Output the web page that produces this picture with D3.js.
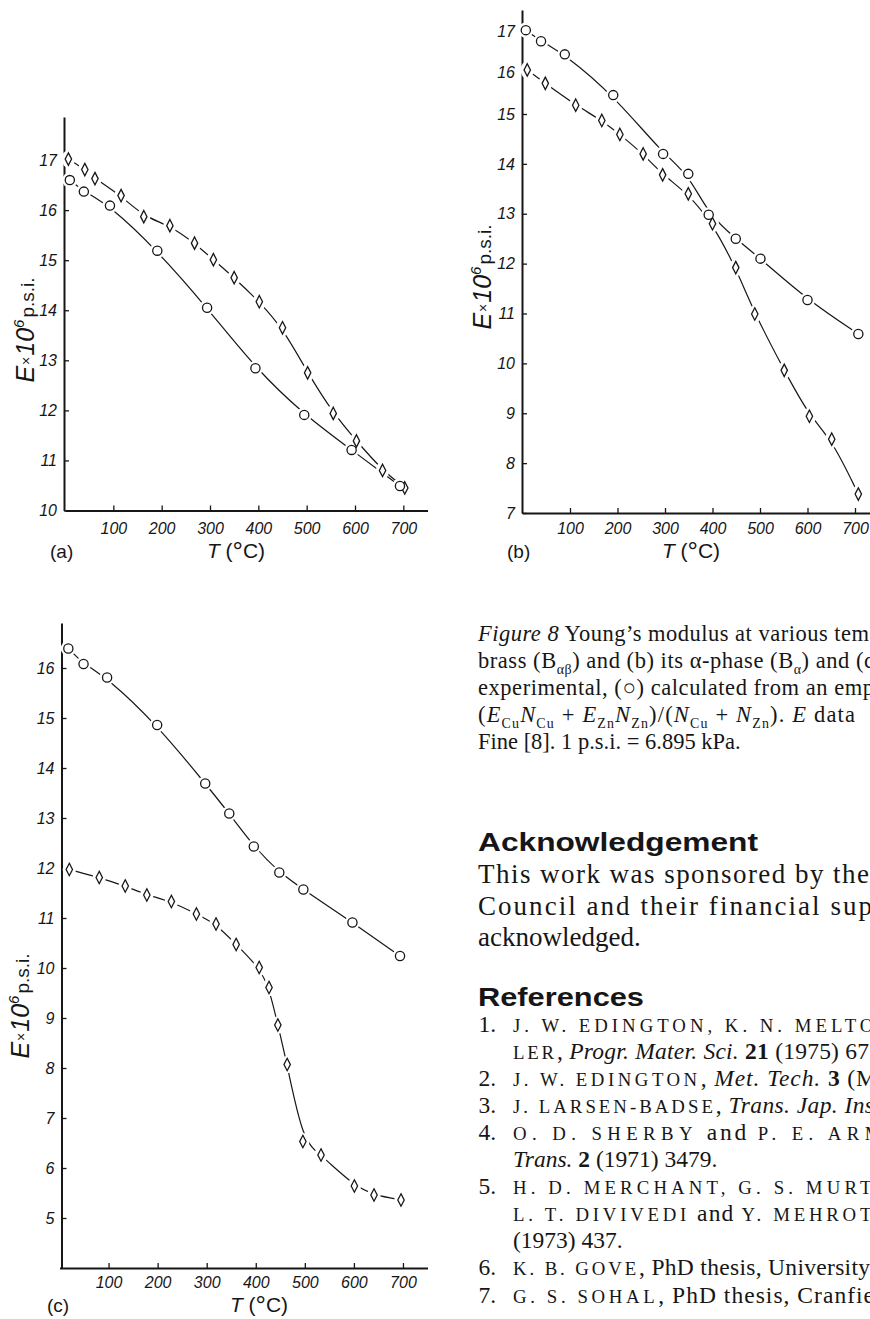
<!DOCTYPE html>
<html><head><meta charset="utf-8">
<script src="https://cdn.jsdelivr.net/npm/d3@7"></script>
<style>
html,body{margin:0;padding:0;background:#fff}
svg{display:block}
</style></head>
<body>
<svg id="fig" width="870" height="1319"></svg>
<script>
// ---------------- data ----------------
const xTickValues = [100, 200, 300, 400, 500, 600, 700];
const xTickLabels = ["100", "200", "300", "400", "500", "600", "700"];

// panel (a)  brass B_ab
const aYTicks = [10, 11, 12, 13, 14, 15, 16, 17];
const aExpT  = [7, 41, 62, 116, 163, 217, 268, 307, 350, 402, 450, 502, 555, 603, 657, 703];
const aExpE  = [17.02, 16.81, 16.63, 16.29, 15.87, 15.69, 15.34, 15.01, 14.65, 14.17, 13.65, 12.75, 11.94, 11.39, 10.80, 10.45];
const aCalcT = [10, 39, 93, 191, 294, 394, 495, 593, 693];
const aCalcE = [16.60, 16.37, 16.09, 15.19, 14.05, 12.84, 11.91, 11.21, 10.49];

// panel (b)  alpha phase B_a
const bYTicks = [7, 8, 9, 10, 11, 12, 13, 14, 15, 16, 17];
const bCalcT = [7, 39, 89, 191, 296, 349, 392, 449, 501, 600, 707];
const bCalcE = [17.02, 16.75, 16.43, 15.45, 14.20, 13.80, 12.98, 12.50, 12.10, 11.27, 10.59];
const bExpT  = [10, 48, 112, 167, 205, 254, 295, 349, 400, 449, 489, 551, 604, 651, 707];
const bExpE  = [16.05, 15.73, 15.21, 14.87, 14.59, 14.20, 13.78, 13.40, 12.80, 11.92, 10.99, 9.86, 8.94, 8.48, 7.38];

// panel (c)  beta phase
const cYTicks = [5, 6, 7, 8, 9, 10, 11, 12, 13, 14, 15, 16];
const cCalcT = [18, 49, 97, 199, 297, 346, 396, 448, 497, 597, 694];
const cCalcE = [16.39, 16.08, 15.81, 14.86, 13.69, 13.09, 12.43, 11.91, 11.57, 10.91, 10.24];
const cExpT  = [20, 81, 134, 178, 228, 279, 319, 360, 407, 427, 445, 464, 496, 533, 601, 641, 696];
const cExpE  = [11.97, 11.81, 11.64, 11.46, 11.33, 11.08, 10.88, 10.47, 10.01, 9.61, 8.86, 8.07, 6.53, 6.26, 5.64, 5.46, 5.36];

const panelLabels = ["(a)", "(b)", "(c)"];

// ---------------- drawing ----------------
const ink = "#161616";
const svg = d3.select("#fig");
const sansF = "'Liberation Sans', Arial, sans-serif";
const serifF = "'Liberation Serif', 'Times New Roman', serif";

function zip(a, b) { return a.map((v, i) => [v, b[i]]); }

function panel(cfg) {
  const g = svg.append("g");
  const x = d3.scaleLinear().domain([0, 750]).range(cfg.xRange);
  const y = d3.scaleLinear().domain(cfg.yDomain).range(cfg.yRange);
  const yb = cfg.yRange[0];

  const xa = g.append("g").attr("transform", `translate(0,${yb})`)
    .call(d3.axisBottom(x).tickValues(xTickValues).tickFormat((d, i) => xTickLabels[i])
      .tickSize(-5).tickSizeOuter(0).tickPadding(cfg.xPad));
  const ya = g.append("g").attr("transform", `translate(${cfg.yAxisX},0)`)
    .call(d3.axisLeft(y).tickValues(cfg.yTicks).tickFormat(d3.format("d"))
      .tickSize(-5).tickSizeOuter(0).tickPadding(7));
  [xa, ya].forEach(a => {
    a.select(".domain").attr("stroke", ink).attr("stroke-width", 2);
    a.selectAll(".tick line").attr("stroke", ink).attr("stroke-width", 1.3);
    a.selectAll(".tick text").attr("fill", ink)
      .style("font-family", sansF).style("font-style", "italic").style("font-size", "16px");
  });

  const line = d3.line().x(d => x(d[0])).y(d => y(d[1])).curve(d3.curveBasis);
  const series = cfg.series;
  series.forEach(s => {
    g.append("path").datum(s.pts).attr("d", line)
      .attr("fill", "none").attr("stroke", ink).attr("stroke-width", 1.2);
  });
  series.forEach(s => {
    g.selectAll(null).data(s.pts).enter().append("ellipse")
      .attr("cx", d => x(d[0])).attr("cy", d => y(d[1]))
      .attr("rx", s.kind === "circle" ? 7.6 : 6.6)
      .attr("ry", s.kind === "circle" ? 7.6 : 8.8)
      .attr("fill", "#fff");
  });
  series.forEach(s => {
    if (s.kind === "circle") {
      g.selectAll(null).data(s.pts).enter().append("circle")
        .attr("cx", d => x(d[0])).attr("cy", d => y(d[1])).attr("r", 4.6)
        .attr("fill", "#fff").attr("stroke", ink).attr("stroke-width", 1.3);
    } else {
      g.selectAll(null).data(s.pts).enter().append("path")
        .attr("d", "M0,-6.2L3.2,0L0,6.2L-3.2,0Z")
        .attr("transform", d => `translate(${x(d[0])},${y(d[1])})`)
        .attr("fill", "#fff").attr("stroke", ink).attr("stroke-width", 1.3);
    }
  });

  g.append("text").attr("x", cfg.lab[0]).attr("y", cfg.lab[1]).text(cfg.label)
    .attr("fill", ink).style("font-family", sansF).style("font-size", "19px");
  const xt = g.append("text").attr("x", cfg.xt[0]).attr("y", cfg.xt[1])
    .attr("text-anchor", "middle").attr("fill", ink).style("font-family", sansF).style("font-size", "21px");
  xt.append("tspan").style("font-style", "italic").text("T");
  xt.append("tspan").text(" (");
  xt.append("tspan").style("font-size", "26px").attr("dy", 2).text("°");
  xt.append("tspan").attr("dy", -2).text("C)");
  const yt = g.append("text").attr("transform", `translate(${cfg.yt[0]},${cfg.yt[1]}) rotate(-90)`)
    .attr("text-anchor", "middle").attr("fill", ink).style("font-family", sansF);
  yt.append("tspan").style("font-style", "italic").style("font-size", "25px").text("E");
  yt.append("tspan").style("font-size", "14px").attr("dx", 1).attr("dy", -3).text("×");
  yt.append("tspan").style("font-style", "italic").style("font-size", "25px").attr("dx", 1).attr("dy", 3).text("10");
  yt.append("tspan").style("font-style", "italic").style("font-size", "15px").attr("dy", -10).text("6");
  yt.append("tspan").style("font-size", "19px").attr("dx", 2).attr("dy", 10).text("p.s.i.");
}

panel({
  xRange: [65, 427.5], yDomain: [10, 17.86], yRange: [510.5, 117], yAxisX: 64,
  yTicks: aYTicks, xPad: 12, label: panelLabels[0], lab: [50, 558], xt: [236, 558], yt: [34, 330],
  series: [{kind: "diamond", pts: zip(aExpT, aExpE)}, {kind: "circle", pts: zip(aCalcT, aCalcE)}]
});
panel({
  xRange: [522.5, 878.75], yDomain: [7, 15, 16, 17, 17.5], yRange: [513, 114, 72, 31, 10], yAxisX: 522,
  yTicks: bYTicks, xPad: 10, label: panelLabels[1], lab: [507, 558], xt: [691, 558], yt: [491, 277],
  series: [{kind: "diamond", pts: zip(bExpT, bExpE)}, {kind: "circle", pts: zip(bCalcT, bCalcE)}]
});
panel({
  xRange: [59.5, 427.5], yDomain: [4, 16.9], yRange: [1268, 623], yAxisX: 61.5,
  yTicks: cYTicks, xPad: 8.5, label: panelLabels[2], lab: [47, 1312], xt: [259, 1312], yt: [29, 1006],
  series: [{kind: "diamond", pts: zip(cExpT, cExpE)}, {kind: "circle", pts: zip(cCalcT, cCalcE)}]
});

// ---------------- text column ----------------
function textLine(x, yb, size, segs, endX) {
  const t = svg.append("text").attr("x", x).attr("y", yb).attr("fill", ink)
    .style("font-family", serifF).style("font-size", size + "px");
  let off = 0;
  segs.forEach(s => {
    const sp = t.append("tspan").text(s.t);
    let target = 0;
    if (s.sub) { target = size * 0.28; sp.style("font-size", (size * 0.62) + "px"); }
    if (target !== off) { sp.attr("dy", target - off); off = target; }
    if (s.it) sp.style("font-style", "italic");
    if (s.b) sp.style("font-weight", "bold");
    if (s.sc) sp.style("font-size", (size * 0.8) + "px").style("letter-spacing", "2.6px");
  });
  if (endX) t.attr("textLength", endX - x).attr("lengthAdjust", "spacing");
  return t;
}

const capSize = 22.5;
textLine(478, 641, capSize, [{t: "Figure 8", it: true}, {t: " Young’s modulus at various tem"}], 869);
textLine(478, 668, capSize, [{t: "brass (B"}, {t: "αβ", sub: true}, {t: ") and (b) its α-phase (B"}, {t: "α", sub: true}, {t: ") and (c"}], 874);
textLine(478, 695, capSize, [{t: "experimental, (○) calculated from an emp"}], 874);
textLine(478, 722, capSize, [
  {t: "("}, {t: "E", it: true}, {t: "Cu", sub: true}, {t: "N", it: true}, {t: "Cu", sub: true},
  {t: " + "}, {t: "E", it: true}, {t: "Zn", sub: true}, {t: "N", it: true}, {t: "Zn", sub: true},
  {t: ")/("}, {t: "N", it: true}, {t: "Cu", sub: true}, {t: " + "}, {t: "N", it: true}, {t: "Zn", sub: true},
  {t: "). "}, {t: "E", it: true}, {t: " data"}], 855);
textLine(478, 749, capSize, [{t: "Fine [8]. 1 p.s.i. = 6.895 kPa."}]);

function heading(yb, txt, w) {
  svg.append("text").attr("x", 478).attr("y", yb).attr("fill", ink).text(txt)
    .style("font-family", sansF).style("font-weight", "bold").style("font-size", "26px")
    .attr("textLength", w).attr("lengthAdjust", "spacingAndGlyphs");
}
heading(851, "Acknowledgement", 280);
const bodySize = 27;
textLine(478, 883, bodySize, [{t: "This work was sponsored by the"}], 869);
textLine(478, 915, bodySize, [{t: "Council and their financial sup"}], 872);
textLine(478, 946, bodySize, [{t: "acknowledged."}]);

heading(1006, "References", 166);

const refSize = 23.5;
const refRows = [
  {n: "1.", segs: [{t: "J. W. EDINGTON, K. N. MELTO", sc: true}], end: 876},
  {segs: [{t: "LER", sc: true}, {t: ", "}, {t: "Progr. Mater. Sci.", it: true}, {t: " "}, {t: "21", b: true}, {t: " (1975) 67"}], end: 869},
  {n: "2.", segs: [{t: "J. W. EDINGTON", sc: true}, {t: ", "}, {t: "Met. Tech.", it: true}, {t: " "}, {t: "3", b: true}, {t: " (M"}], end: 877},
  {n: "3.", segs: [{t: "J. LARSEN-BADSE", sc: true}, {t: ", "}, {t: "Trans. Jap. Ins", it: true}], end: 874},
  {n: "4.", segs: [{t: "O. D. SHERBY", sc: true}, {t: "   and   "}, {t: "P. E. ARM", sc: true}], end: 884},
  {segs: [{t: "Trans.", it: true}, {t: " "}, {t: "2", b: true}, {t: " (1971) 3479."}]},
  {n: "5.", segs: [{t: "H. D. MERCHANT, G. S. MURT", sc: true}], end: 874},
  {segs: [{t: "L. T. DIVIVEDI", sc: true}, {t: " and "}, {t: "Y. MEHROT", sc: true}], end: 874},
  {segs: [{t: "(1973) 437."}]},
  {n: "6.", segs: [{t: "K. B. GOVE", sc: true}, {t: ", PhD thesis, University"}], end: 870},
  {n: "7.", segs: [{t: "G. S. SOHAL", sc: true}, {t: ", PhD thesis, Cranfie"}], end: 874}
];
refRows.forEach((r, i) => {
  const yb = 1032 + i * 27.05;
  if (r.n) {
    svg.append("text").attr("x", 496).attr("y", yb).attr("text-anchor", "end").attr("fill", ink)
      .style("font-family", serifF).style("font-size", refSize + "px").text(r.n);
  }
  textLine(513, yb, refSize, r.segs, r.end);
});
</script>
</body></html>
